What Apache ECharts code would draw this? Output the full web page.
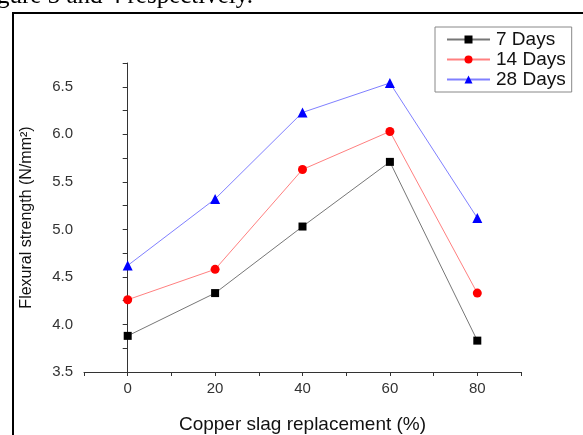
<!DOCTYPE html>
<html>
<head>
<meta charset="utf-8">
<script src="https://cdn.jsdelivr.net/npm/echarts@6/dist/echarts.min.js"></script>
<style>
html, body { margin: 0; padding: 0; background: #fff; }
#chart { width: 583px; height: 435px; }
</style>
</head>
<body>
<div id="chart"></div>
<script>
// copper slag replacement levels (%)
var replacement = [0, 20, 40, 60, 80];
var days7 = [3.88, 4.33, 5.03, 5.71, 3.83];
var days14 = [4.26, 4.58, 5.63, 6.03, 4.33];
var days28 = [4.62, 5.32, 6.23, 6.54, 5.12];
var seriesNames = ['7 Days', '14 Days', '28 Days'];

function pairs(vals) {
	return replacement.map(function (x, i) { return [x, vals[i]]; });
}

var chart = echarts.init(document.getElementById('chart'));
var font = 'Liberation Sans, Arial, sans-serif';

var option = {
	animation: false,
	backgroundColor: '#fff',
	grid: { left: 84, top: 63, right: 62, bottom: 63, outerBoundsMode: 'none' },
	legend: {
		left: 435, top: 27,
		orient: 'vertical',
		itemWidth: 43, itemHeight: 10, itemGap: 1,
		padding: [3, 6, 3, 11],
		borderColor: '#888', borderWidth: 1,
		textStyle: { fontFamily: font, fontSize: 19, color: '#111', padding: [0, 0, 0, 1] },
		data: seriesNames
	},
	xAxis: {
		type: 'value', min: -10, max: 90, interval: 10,
		name: 'Copper slag replacement (%)',
		nameLocation: 'middle', nameGap: 43,
		nameTextStyle: { fontFamily: font, fontSize: 19, color: '#111' },
		splitLine: { show: false },
		axisLine: { show: true, lineStyle: { color: '#333', width: 1 } },
		axisTick: { show: true, length: 4, lineStyle: { color: '#333' } },
		axisLabel: {
			fontFamily: font, fontSize: 15, color: '#333', margin: 9,
			formatter: function (v) { return (v >= 0 && v % 20 === 0) ? String(v) : ''; }
		}
	},
	yAxis: {
		type: 'value', min: 3.5, max: 6.75, interval: 0.25,
		name: 'Flexural strength (N/mm²)',
		nameLocation: 'middle', nameGap: 49,
		nameTextStyle: { fontFamily: font, fontSize: 16, color: '#111' },
		splitLine: { show: false },
		axisLine: { show: true, lineStyle: { color: '#333', width: 1 } },
		axisTick: { show: true, length: 5, lineStyle: { color: '#333' } },
		axisLabel: {
			fontFamily: font, fontSize: 15, color: '#333', margin: 11,
			formatter: function (v) {
				var r = Math.round(v * 100) / 100;
				return (Math.abs(r * 2 - Math.round(r * 2)) < 1e-6) ? r.toFixed(1) : '';
			}
		}
	},
	series: [
		{
			name: '7 Days', type: 'line', data: pairs(days7),
			symbol: 'rect', symbolSize: 8,
			itemStyle: { color: '#000' },
			lineStyle: { color: '#777', width: 1 }
		},
		{
			name: '14 Days', type: 'line', data: pairs(days14),
			symbol: 'circle', symbolSize: 9,
			itemStyle: { color: '#ff0000' },
			lineStyle: { color: '#ff8080', width: 1 }
		},
		{
			name: '28 Days', type: 'line', data: pairs(days28),
			symbol: 'triangle', symbolSize: 10,
			itemStyle: { color: '#0000ff' },
			lineStyle: { color: '#8080ff', width: 1 }
		}
	],
	graphic: [
		{
			type: 'text', left: -3, top: -16,
			style: { text: 'gure 3 and 4 respectively.', fontFamily: 'Liberation Serif, Times New Roman, serif', fontSize: 25, fill: '#000' }
		},
		{ type: 'line', shape: { x1: 12, y1: 13, x2: 583, y2: 13 }, style: { stroke: '#000', lineWidth: 2 } },
		{ type: 'line', shape: { x1: 13, y1: 13, x2: 13, y2: 435 }, style: { stroke: '#000', lineWidth: 2 } }
	]
};

chart.setOption(option);
</script>
</body>
</html>
